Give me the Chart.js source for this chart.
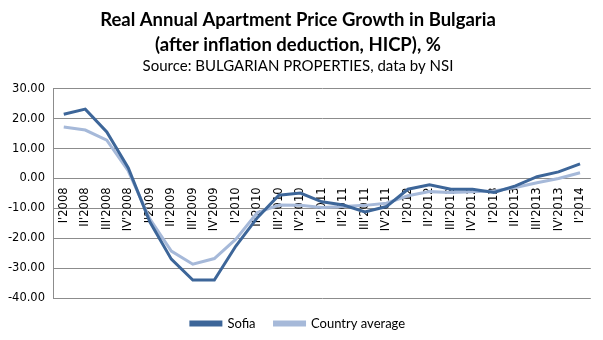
<!DOCTYPE html>
<html>
<head>
<meta charset="utf-8">
<script src="https://cdn.jsdelivr.net/npm/chart.js@4/dist/chart.umd.min.js"></script>
<style>
  html, body { margin: 0; padding: 0; background: #ffffff; }
  #wrap { width: 603px; height: 340px; }
</style>
</head>
<body>
<div id="wrap"><canvas id="c" width="603" height="340"></canvas></div>
<script>
// Quarterly periods
const quarters = [
  "I'2008", "II'2008", "III'2008", "IV'2008",
  "I'2009", "II'2009", "III'2009", "IV'2009",
  "I'2010", "II'2010", "III'2010", "IV'2010",
  "I'2011", "II'2011", "III'2011", "IV'2011",
  "I'2012", "II'2012", "III'2012", "IV'2012",
  "I'2013", "II'2013", "III'2013", "IV'2013",
  "I'2014"
];

// Real annual price growth, %
const sofia = [
  21.5, 23.2, 15.6, 3.5,
  -14.5, -27.0, -34.0, -34.0,
  -22.6, -13.1, -5.6, -4.9,
  -7.8, -8.9, -11.2, -9.4,
  -3.6, -2.1, -3.6, -3.6,
  -4.7, -2.5, 0.6, 2.2,
  4.9
];

const countryAverage = [
  17.2, 16.2, 12.8, 2.5,
  -13.5, -24.3, -28.7, -26.8,
  -20.3, -11.4, -8.9, -9.0,
  -9.7, -9.4, -9.0, -8.3,
  -5.8, -4.4, -4.7, -4.4,
  -4.2, -3.0, -1.4, 0.0,
  1.9
];

const yTicks = { min: -40, max: 30, step: 10 };

const sofiaColor = '#3d6699';
const countryColor = '#a6b9d9';

new Chart(document.getElementById('c'), {
  type: 'line',
  data: {
    labels: quarters,
    datasets: [
      {
        label: 'Sofia',
        data: sofia,
        borderColor: sofiaColor,
        backgroundColor: sofiaColor,
        borderWidth: 3,
        pointRadius: 0,
        tension: 0,
        order: 1
      },
      {
        label: 'Country average',
        data: countryAverage,
        borderColor: countryColor,
        backgroundColor: countryColor,
        borderWidth: 3,
        pointRadius: 0,
        tension: 0,
        order: 2
      }
    ]
  },
  options: {
    responsive: false,
    animation: false,
    layout: { padding: { left: 1, right: 8, top: 4, bottom: 0 } },
    plugins: {
      tooltip: { enabled: false },
      title: {
        display: true,
        text: ['Real Annual Apartment Price Growth in Bulgaria', '(after inflation deduction, HICP), %'],
        font: { family: 'Lato', size: 18.5, weight: 'bold', lineHeight: 1.32 },
        color: '#000000',
        padding: { top: 4, bottom: 0 }
      },
      subtitle: {
        display: true,
        text: 'Source: BULGARIAN PROPERTIES, data by NSI',
        font: { family: 'Lato', size: 15, lineHeight: 1.2 },
        color: '#000000',
        padding: { top: 0, bottom: 14 }
      },
      legend: {
        position: 'bottom',
        labels: {
          boxWidth: 30,
          boxHeight: 3,
          color: '#000000',
          font: { family: 'Lato', size: 13 },
          padding: 19
        }
      }
    },
    scales: {
      x: {
        type: 'category',
        offset: true,
        position: { y: 0 },
        grid: { display: false, drawTicks: false },
        border: { display: false },
        ticks: {
          minRotation: 90,
          maxRotation: 90,
          autoSkip: false,
          padding: 9,
          color: '#000000',
          font: { family: 'DejaVu Sans', size: 11.5 }
        }
      },
      y: {
        min: yTicks.min,
        max: yTicks.max,
        afterFit: (scale) => { scale.width = 52; },
        ticks: {
          stepSize: yTicks.step,
          padding: 8,
          color: '#000000',
          font: { family: 'DejaVu Sans', size: 11.5 },
          callback: (v) => v.toFixed(2)
        },
        grid: { color: '#8c8c8c', lineWidth: 1, drawTicks: false },
        border: { display: true, color: '#8c8c8c', width: 1 }
      }
    }
  }
});
</script>
</body>
</html>
